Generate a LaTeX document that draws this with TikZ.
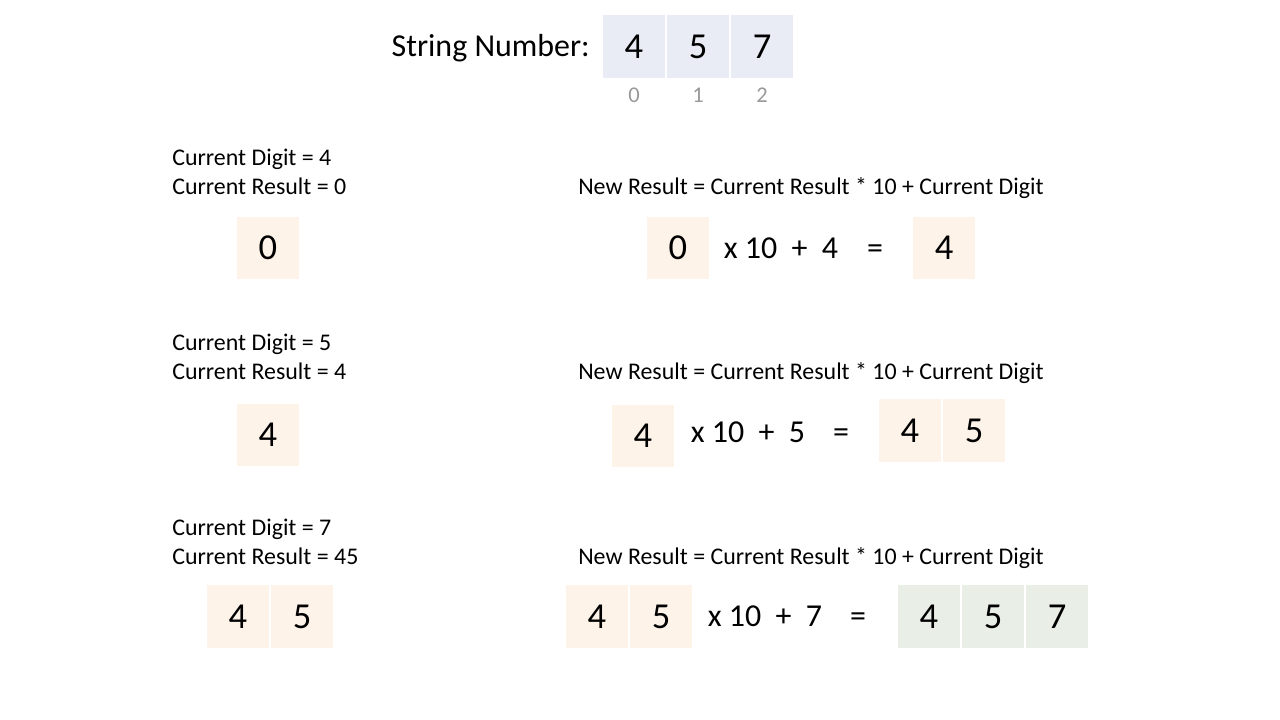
\documentclass[tikz,border=0pt]{standalone}
\usepackage{fontspec}
\setmainfont{Carlito}
\usetikzlibrary{calc,positioning}
\definecolor{cellblue}{HTML}{E9ECF5}
\definecolor{cellorange}{HTML}{FEF3E9}
\definecolor{cellgreen}{HTML}{E9EFE7}
\newdimen\cdim
\newdimen\gdim
\cdim=1.55cm
\gdim=0.05cm
\tikzstyle{cell}=[
  fill=cellorange,
  font={\fontsize{26}{30}\selectfont},
  inner sep=0pt,
  minimum size=\cdim,
  outer sep=0pt,
  rectangle,
  text centered,
]
\tikzstyle{strcell}=[
  cell,
  fill=cellblue,
]
\tikzstyle{sumcell}=[
  cell,
  fill=cellgreen,
]
\tikzstyle{index}=[
  color=black!40,
  font={\fontsize{16}{18}\selectfont},
  inner sep=0pt,
]
\tikzstyle{caption}=[
  anchor=base west,
  font={\fontsize{17}{20}\selectfont},
  inner sep=0pt,
]
\tikzstyle{expr}=[
  font={\fontsize{22.7}{26}\selectfont},
  inner sep=0pt,
]
\tikzset{
  node distance=\cdim+\gdim,
}
\begin{document}
\begin{tikzpicture}[x=0.025cm, y=-0.025cm]
      \useasboundingbox (0,0) rectangle (1280,720);
      \node (strlabel) [expr, anchor=base east] at (590,57) {String Number:};
      \node (s0) [strcell] at (634,46.5) {4};
      \node (s1) [strcell, right of=s0] {5};
      \node (s2) [strcell, right of=s1] {7};
      \node (i0) [index] at ($(s0)+(0,49)$) {0};
      \node (i1) [index] at ($(s1)+(0,49)$) {1};
      \node (i2) [index] at ($(s2)+(0,49)$) {2};
      %% first digit
      \node (digA) [caption] at (172,166) {Current Digit = 4};
      \node (resA) [caption] at ($(digA.base west)+(0,29)$) {Current Result = 0};
      \node (ruleA) [caption] at (578,195) {New Result = Current Result * 10 + Current Digit};
      \node (curA) [cell] at (268,248) {0};
      \node (oldA) [cell] at (678,248) {0};
      \node (exprA) [expr] at (781,248) {x 10\ \ +\ \ 4};
      \node (eqA) [expr, anchor=base] at ($(exprA.base)+(94,0)$) {=};
      \node (newA0) [cell] at (944,248) {4};
      %% second digit
      \node (digB) [caption] at (172,351) {Current Digit = 5};
      \node (resB) [caption] at ($(digB.base west)+(0,29)$) {Current Result = 4};
      \node (ruleB) [caption] at (578,380) {New Result = Current Result * 10 + Current Digit};
      \node (curB) [cell] at (268,435) {4};
      \node (oldB) [cell] at (643,436) {4};
      \node (exprB) [expr] at (748,432) {x 10\ \ +\ \ 5};
      \node (eqB) [expr, anchor=base] at ($(exprB.base)+(93,0)$) {=};
      \node (newB0) [cell] at (910,430.5) {4};
      \node (newB1) [cell, right of=newB0] {5};
      %% third digit
      \node (digC) [caption] at (172,535) {Current Digit = 7};
      \node (resC) [caption] at ($(digC.base west)+(0,29)$) {Current Result = 45};
      \node (ruleC) [caption] at (578,564) {New Result = Current Result * 10 + Current Digit};
      \node (curC0) [cell] at (238,616.5) {4};
      \node (curC1) [cell, right of=curC0] {5};
      \node (oldC0) [cell] at (597,616.5) {4};
      \node (oldC1) [cell, right of=oldC0] {5};
      \node (exprC) [expr] at (765,616.5) {x 10\ \ +\ \ 7};
      \node (eqC) [expr, anchor=base] at ($(exprC.base)+(93,0)$) {=};
      \node (newC0) [sumcell] at (929,616.5) {4};
      \node (newC1) [sumcell, right of=newC0] {5};
      \node (newC2) [sumcell, right of=newC1] {7};
    \end{tikzpicture}
\end{document}
